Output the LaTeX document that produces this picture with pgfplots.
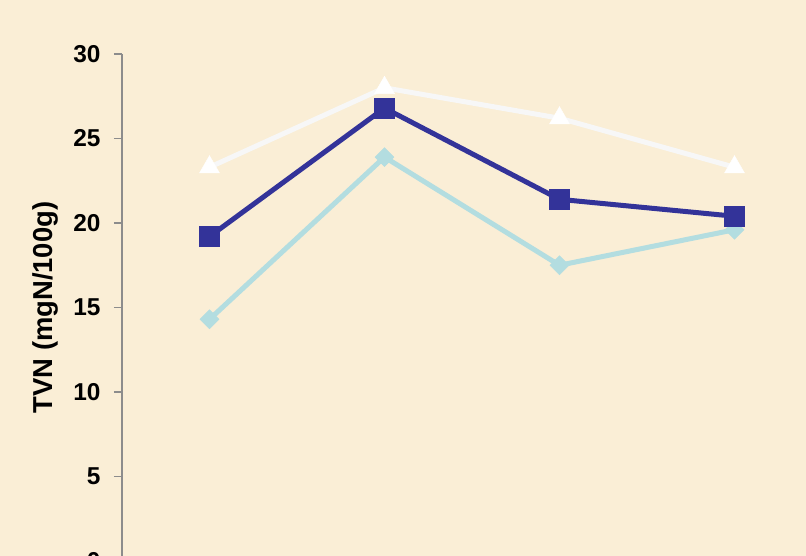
\documentclass[border=0pt]{standalone}
\usepackage{pgfplots}
\pgfplotsset{compat=1.18}
\usepackage{fontspec}
\setmainfont{Liberation Sans}
\definecolor{bg}{HTML}{FAEED6}
\definecolor{navy}{HTML}{333399}
\definecolor{lblue}{HTML}{B3DDE0}
\definecolor{wline}{HTML}{F7F7F7}
\definecolor{axgray}{HTML}{8C8C8C}
\begin{document}
\begin{tikzpicture}
\fill[bg] (-122bp,5bp) rectangle (684bp,561bp);
\begin{axis}[
  at={(0,0)}, anchor=south west,
  x=175bp, y=16.9bp,
  xmin=0.5, xmax=4.5, ymin=0, ymax=30,
  axis x line=none,
  axis y line*=left,
  y axis line style={axgray, line width=1.2bp},
  ytick={0,5,...,30},
  tick align=outside,
  major tick length=8bp,
  every tick/.style={axgray, line width=1.2bp},
  /pgf/number format/assume math mode=true,
  yticklabel style={font=\fontsize{24.5}{28}\selectfont\bfseries, black, xshift=-10bp},
  every axis y label/.style={at={(axis description cs:-0.11,0.5)}, rotate=90, anchor=center},
  ylabel={TVN (mgN/100g)},
  ylabel style={font=\fontsize{27.5}{32}\selectfont\bfseries},
  clip=false,
]
\addplot[wline, line width=5bp, mark=triangle*, mark size=11.5bp, mark options={fill=white, draw=white, line width=0.5bp}]
  coordinates {(1,23.3) (2,28.0) (3,26.2) (4,23.3)};
\addplot[lblue, line width=5bp, mark=square*, mark size=6.7bp, mark options={rotate=45, fill=lblue, draw=lblue, line width=0.5bp}]
  coordinates {(1,14.3) (2,23.9) (3,17.5) (4,19.6)};
\addplot[navy, line width=5bp, mark=square*, mark size=10bp, mark options={fill=navy, draw=navy, line width=0.5bp}]
  coordinates {(1,19.2) (2,26.8) (3,21.4) (4,20.4)};
\end{axis}
\pgfresetboundingbox
\path (-122bp,5bp) rectangle (684bp,561bp);
\end{tikzpicture}
\end{document}
